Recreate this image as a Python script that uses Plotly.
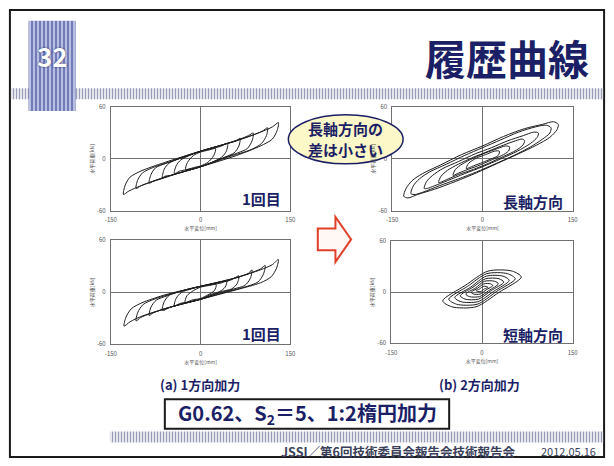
import plotly.graph_objects as go

W, H = 614, 466
FONT = "Noto Sans CJK JP"
NAVY = "#1b1f66"

# ---------------- data ----------------
# (a) 1方向加力 (upper panel, 1回目): hysteresis loops [displacement mm], [load kN]
tl_x = [
    [-129, -126, -118, -100, -60, 0, 60, 100, 120, 130, 128, 120, 100, 60, 0, -60, -100, -120, -129],
    [-108, -105, -97, -80, -45, 0, 50, 85, 103, 112, 110, 102, 85, 45, 0, -50, -85, -100, -108],
    [-86, -83, -75, -58, -25, 0, 40, 66, 80, 88, 86, 78, 62, 30, 0, -40, -66, -80, -86],
    [-64, -61, -53, -35, 0, 30, 50, 60, 66, 64, 56, 40, 0, -30, -50, -60, -64],
    [-44, -41, -33, -15, 0, 20, 35, 45, 43, 35, 15, 0, -20, -35, -44],
    [-25, -22, -12, 0, 12, 25, 22, 12, 0, -12, -25],
]
tl_y = [
    [-41, -30, -21, -14, -4, 9, 21, 31, 37, 42, 33, 23, 15, 4, -9, -21, -31, -37, -41],
    [-34, -24, -16, -10, -2, 9, 19, 27, 32, 36, 27, 18, 11, 2, -9, -19, -27, -31, -34],
    [-28, -18, -10, -5, 3, 9, 17, 23, 27, 30, 21, 12, 7, -1, -9, -17, -23, -26, -28],
    [-22, -12, -5, 1, 9, 15, 19, 21, 24, 15, 7, 2, -9, -15, -19, -20, -22],
    [-17, -8, -1, 5, 9, 12, 15, 18, 9, 2, -5, -9, -12, -14, -17],
    [-12, -4, 4, 8, 10, 12, 4, -4, -8, -10, -12],
]

# (a) 1方向加力 (lower panel, 1回目)
bl_x = [
    [-128, -125, -116, -98, -60, 0, 60, 100, 120, 130, 127, 118, 100, 60, 0, -60, -100, -118, -128],
    [-108, -105, -96, -78, -40, 0, 50, 82, 100, 108, 105, 96, 78, 40, 0, -50, -82, -100, -108],
    [-86, -83, -74, -56, -25, 0, 40, 65, 80, 86, 83, 74, 56, 25, 0, -40, -65, -80, -86],
    [-64, -61, -52, -35, 0, 30, 50, 64, 61, 52, 35, 0, -30, -50, -64],
    [-44, -41, -32, -15, 0, 20, 35, 44, 41, 32, 15, 0, -20, -35, -44],
    [-26, -23, -12, 0, 15, 26, 23, 12, 0, -15, -26],
]
bl_y = [
    [-39, -29, -19, -12, -3, 7, 17, 26, 32, 38, 28, 18, 11, 3, -8, -19, -28, -34, -39],
    [-33, -23, -14, -8, 0, 7, 15, 22, 27, 31, 21, 12, 7, 0, -8, -17, -24, -29, -33],
    [-27, -17, -9, -4, 3, 7, 13, 18, 22, 26, 16, 8, 4, -2, -8, -15, -20, -24, -27],
    [-21, -11, -3, 1, 7, 11, 14, 19, 10, 4, 1, -8, -13, -17, -21],
    [-16, -7, 0, 4, 7, 9, 11, 14, 6, 1, -3, -8, -11, -13, -16],
    [-12, -4, 2, 6, 8, 9, 2, -3, -7, -9, -12],
]

# (b) 2方向加力 長軸方向
tr_x = [
    [-131, -127, -117, -100, -70, -35, 0, 35, 70, 100, 118, 126, 124, 112, 90, 60, 25, -10, -45, -80, -108, -124, -131],
    [-119, -115, -105, -88, -60, -30, 0, 30, 60, 88, 106, 114, 112, 100, 80, 52, 20, -10, -40, -72, -98, -112, -119],
    [-97, -93, -83, -66, -40, -12, 15, 42, 68, 85, 93, 91, 80, 58, 30, 0, -30, -58, -80, -92, -97],
    [-73, -69, -58, -40, -15, 10, 35, 55, 66, 70, 67, 56, 35, 10, -15, -40, -60, -70, -73],
    [-49, -45, -34, -15, 5, 25, 38, 45, 43, 32, 12, -8, -28, -42, -49],
    [-27, -23, -10, 5, 20, 28, 26, 14, 0, -15, -27],
]
tr_y = [
    [-43, -34, -25, -17, -7, 5, 15, 26, 35, 40, 43, 40, 34, 25, 16, 6, -5, -16, -26, -35, -41, -45, -43],
    [-40, -31, -23, -15, -6, 4, 13, 22, 31, 37, 39, 36, 30, 23, 14, 4, -6, -15, -23, -31, -38, -41, -40],
    [-34, -26, -19, -11, -3, 6, 13, 21, 27, 31, 30, 25, 18, 9, 0, -9, -17, -25, -31, -34, -34],
    [-27, -20, -13, -6, 2, 9, 16, 21, 23, 21, 16, 10, 3, -5, -12, -18, -24, -27, -27],
    [-19, -12, -6, 1, 7, 12, 15, 14, 9, 4, -2, -8, -13, -17, -19],
    [-11, -5, 1, 5, 9, 9, 4, 0, -4, -8, -11],
]

# (b) 2方向加力 短軸方向
br_x = [
    [-65, -28, 10, 50, 65, 28, -10, -50, -65],
    [-55, -24, 8, 42, 55, 24, -8, -42, -55],
    [-45, -19, 7, 35, 45, 19, -7, -35, -45],
    [-36, -15, 6, 28, 36, 15, -6, -28, -36],
    [-27, -11, 4, 21, 27, 11, -4, -21, -27],
    [-18, -7, 3, 14, 18, 7, -3, -14, -18],
    [-10, -4, 2, 7, 10, 4, -2, -7, -10],
]
br_y = [
    [-10, 8, 25, 25, 18, 0, -17, -17, -10],
    [-8, 7, 22, 22, 16, 1, -14, -14, -8],
    [-6, 6, 19, 19, 14, 1, -11, -11, -6],
    [-4, 6, 16, 16, 12, 2, -8, -8, -4],
    [-2, 5, 13, 13, 10, 2, -5, -5, -2],
    [0, 5, 10, 10, 8, 3, -2, -2, 0],
    [2, 4, 7, 7, 6, 4, 1, 1, 2],
]

x_ticks = [-150, 0, 150]
x_ticktext = ["-150", "0", "150"]
y_ticks = [-60, 0, 60]
y_ticktext = ["-60", "0", "60"]
x_title = "水平変位[mm]"
y_title = "水平荷重[kN]"

panels = [
    ("x2", "y2", tl_x, tl_y, (107, 290, 104, 210), "1回目", (261, 197)),
    ("x3", "y3", bl_x, bl_y, (107, 290, 240, 346), "1回目", (261, 335)),
    ("x4", "y4", tr_x, tr_y, (394, 578, 104, 210), "長軸方向", (538, 200)),
    ("x5", "y5", br_x, br_y, (393, 578, 241, 345), "短軸方向", (537, 336)),
]

fig = go.Figure()

# ---------- page background decorations (pixel-space axis) ----------
def band(x0, x1, y0, y1, fg, bg, size, sol):
    fig.add_trace(go.Scatter(
        x=[x0, x1, x1, x0, x0], y=[y0, y0, y1, y1, y0], mode="lines",
        line=dict(width=0), fill="toself", fillcolor=bg,
        fillpattern=dict(shape="|", size=size, solidity=sol, fgcolor=fg, bgcolor=bg),
        xaxis="x", yaxis="y", hoverinfo="skip", showlegend=False))

band(5, 609, 85, 96, "#343a70", "white", 3, 0.5)
band(106, 609, 435, 446, "#343a70", "white", 3, 0.5)
band(23, 71, 16, 108, "#2b3a8c", "#b9bfe2", 4, 0.5)

# ---------- hysteresis loops ----------
for xa, ya, xs, ys, _, _, _ in panels:
    for lx, ly in zip(xs, ys):
        fig.add_trace(go.Scatter(
            x=lx, y=ly, mode="lines", xaxis=xa, yaxis=ya,
            line=dict(color="#1e1e1e", width=1, shape="spline", smoothing=0.8),
            hoverinfo="skip", showlegend=False))

layout = dict(
    width=W, height=H, margin=dict(l=0, r=0, t=0, b=0),
    paper_bgcolor="white", plot_bgcolor="rgba(0,0,0,0)", showlegend=False,
    xaxis=dict(domain=[0, 1], range=[0, W], visible=False, fixedrange=True),
    yaxis=dict(domain=[0, 1], range=[H, 0], visible=False, fixedrange=True),
)

annotations = []
for xa, ya, xs, ys, (px0, px1, py0, py1), lab, (lx, ly) in panels:
    n = xa[1:]
    layout["xaxis" + n] = dict(
        domain=[px0 / W, px1 / W], anchor=ya, range=[-150, 150],
        tickvals=x_ticks, ticktext=x_ticktext, showgrid=False,
        showline=True, mirror=True, linecolor="#707070", linewidth=1,
        zeroline=True, zerolinecolor="#707070", zerolinewidth=1, ticks="",
        ticklabelstandoff=3,
        tickfont=dict(size=6, color="#555", family=FONT),
        title=dict(text=x_title, font=dict(size=5, color="#555", family=FONT), standoff=2))
    layout["yaxis" + n] = dict(
        domain=[1 - py1 / H, 1 - py0 / H], anchor=xa, range=[-60, 60],
        tickvals=y_ticks, ticktext=y_ticktext, showgrid=False,
        showline=True, mirror=True, linecolor="#707070", linewidth=1,
        zeroline=True, zerolinecolor="#707070", zerolinewidth=1, ticks="",
        ticklabelstandoff=3,
        tickfont=dict(size=6, color="#555", family=FONT),
        title=dict(text=y_title, font=dict(size=5, color="#555", family=FONT), standoff=2))
    annotations.append(dict(x=lx, y=ly, xref="x", yref="y", text="<b>%s</b>" % lab,
                            showarrow=False, font=dict(size=15, color=NAVY, family=FONT)))

def txt(x, y, s, size, color=NAVY, bold=True, xanchor="center", **kw):
    annotations.append(dict(x=x, y=y, xref="x", yref="y",
                            text=("<b>%s</b>" % s) if bold else s, showarrow=False,
                            xanchor=xanchor, font=dict(size=size, color=color, family=FONT, **kw)))

txt(511, 53, "履歴曲線", 41)
txt(47, 51, "32", 26, color="white", shadow="0px 0px 2px #1b1f66")
txt(346, 126, "長軸方向の", 15)
txt(346, 147, "差は小さい", 15)
txt(198, 387, "(a) 1方向加力", 13)
txt(483, 387, "(b) 2方向加力", 13)
txt(307, 417, "G0.62、S<sub>2</sub>＝5、1:2楕円加力", 20)
txt(278, 455, "JSSI／第6回技術委員会報告会技術報告会", 12.5, color="#3a3f5a", xanchor="left")
txt(574, 455, "2012.05.16", 11, color="#3a3f5a", bold=False)

shapes = [
    dict(type="rect", xref="x", yref="y", x0=4, y0=5, x1=610, y1=461,
         line=dict(color="#1a1a1a", width=2), layer="below"),
    dict(type="circle", xref="x", yref="y", x0=288, y0=112, x1=405, y1=162,
         fillcolor="#fdf8c8", line=dict(color=NAVY, width=1.5), layer="above"),
    dict(type="path", xref="x", yref="y",
         path="M318,228 L336,228 L336,216 L352,239 L336,262 L336,250 L318,250 Z",
         fillcolor="#fff8f4", line=dict(color="#e0402a", width=2), layer="above"),
    dict(type="rect", xref="x", yref="y", x0=162, y0=402, x1=452, y1=432,
         fillcolor="white", line=dict(color="#1a1a1a", width=2), layer="above"),
]

layout["annotations"] = annotations
layout["shapes"] = shapes
fig.update_layout(**layout)

fig.write_html("out.html", config={"displayModeBar": False},
               post_script="document.body.style.margin='0';document.body.style.overflow='hidden';")
